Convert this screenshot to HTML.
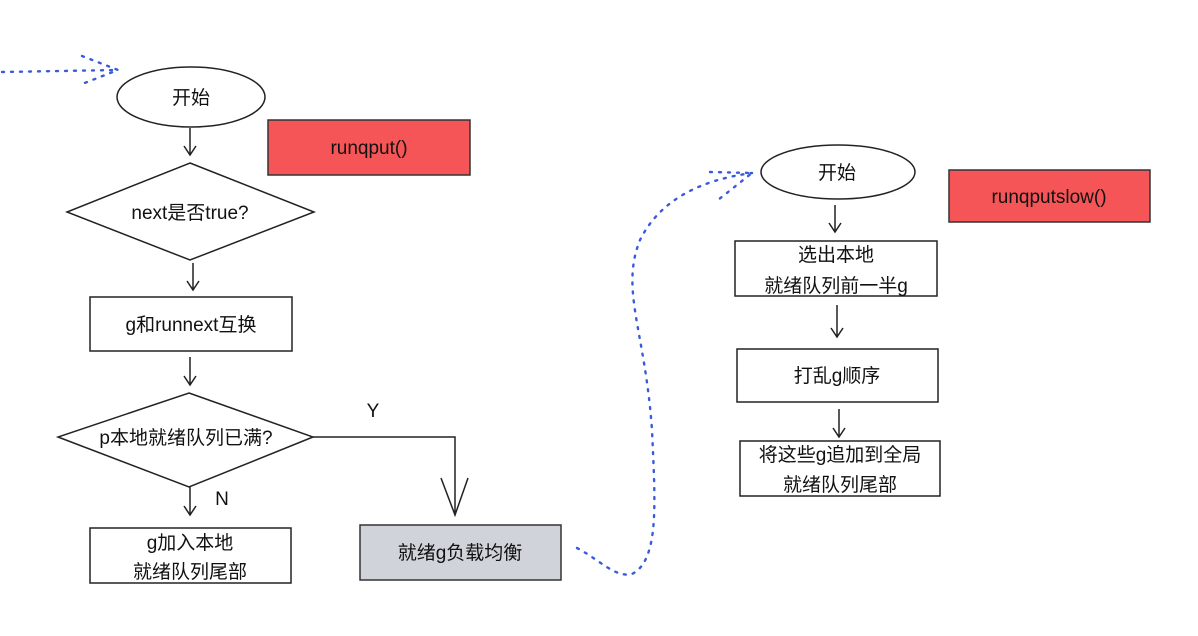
<!DOCTYPE html>
<html><head><meta charset="utf-8"><style>
html,body{margin:0;padding:0;background:#fff;}
svg{display:block;}
text{font-family:"Liberation Sans","Noto Sans CJK SC",sans-serif;font-size:19px;fill:#111;text-anchor:middle;}
</style></head><body>
<svg width="1198" height="636" viewBox="0 0 1198 636" xmlns="http://www.w3.org/2000/svg">
<g fill="none" stroke="#3a5bd9" stroke-width="2.4" stroke-dasharray="2,7" stroke-linecap="round">
<path d="M2,72 L118,70"/>
<path d="M82,56 L118,70 L82,84"/>
<path d="M577,548 C600,560 615,578 632,574 C660,560 655,500 652,430 C645,330 620,290 640,240 C660,200 700,180 752,173"/>
<path d="M710,172 L752,173 L718,200"/>
</g>
<g fill="none" stroke="#222" stroke-width="1.5">
<ellipse cx="191" cy="97" rx="74" ry="30"/>
<ellipse cx="838" cy="172" rx="77" ry="27"/>
<polygon points="190,163 314,212 190,260 67,212"/>
<polygon points="189,393 313,437 189,487 58,437"/>
<rect x="90" y="297" width="202" height="54"/>
<rect x="90" y="528" width="201" height="55"/>
<rect x="735" y="241" width="202" height="55"/>
<rect x="737" y="349" width="201" height="53"/>
<rect x="740" y="441" width="200" height="55"/>
<path d="M190,128 V155 M184,146 L190,155 L196,146"/>
<path d="M193,263 V290 M187,281 L193,290 L199,281"/>
<path d="M190,357 V385 M184,376 L190,385 L196,376"/>
<path d="M190,487 V515 M184,506 L190,515 L196,506"/>
<path d="M313,437 H455 V515 M441,478 L455,515 L468,478"/>
<path d="M835,205 V232 M829,223 L835,232 L841,223"/>
<path d="M837,305 V337 M831,328 L837,337 L843,328"/>
<path d="M839,409 V437 M833,428 L839,437 L845,428"/>
</g>
<rect x="268" y="120" width="202" height="55" fill="#f55556" stroke="#333" stroke-width="1.5"/>
<rect x="949" y="170" width="201" height="52" fill="#f55556" stroke="#333" stroke-width="1.5"/>
<rect x="360" y="525" width="201" height="55" fill="#d0d4da" stroke="#333" stroke-width="1.5"/>
<text x="191" y="104">开始</text>
<text x="369" y="154">runqput()</text>
<text x="190" y="219">next是否true?</text>
<text x="191" y="331">g和runnext互换</text>
<text x="186" y="444">p本地就绪队列已满?</text>
<text x="373" y="417">Y</text>
<text x="222" y="505">N</text>
<text x="190" y="549">g加入本地</text>
<text x="190" y="578">就绪队列尾部</text>
<text x="460" y="559">就绪g负载均衡</text>
<text x="837" y="179">开始</text>
<text x="1049" y="203">runqputslow()</text>
<text x="836" y="261">选出本地</text>
<text x="836" y="292">就绪队列前一半g</text>
<text x="837" y="382">打乱g顺序</text>
<text x="840" y="461">将这些g追加到全局</text>
<text x="840" y="491">就绪队列尾部</text>
</svg>
</body></html>
